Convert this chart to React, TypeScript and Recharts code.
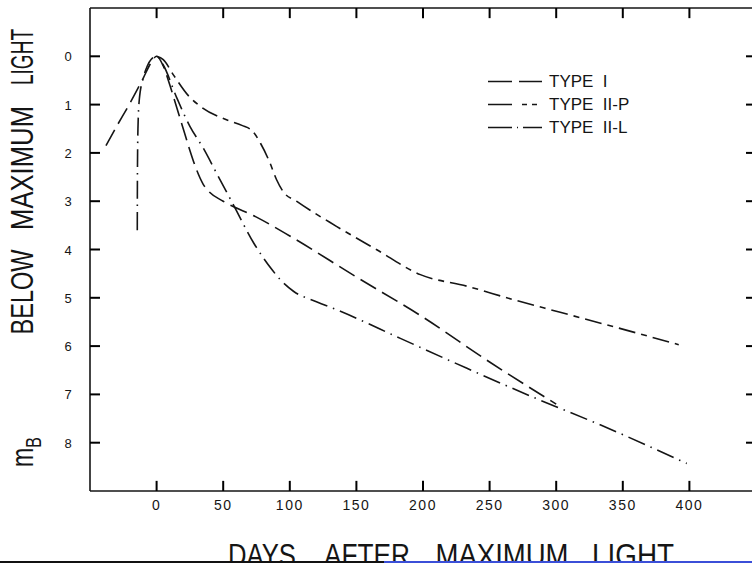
import { LineChart, Line, XAxis, YAxis, Legend, Label, ReferenceLine } from 'recharts'

// light curves (days after max, mag below max)
const TYPE_I_DAYS = [-38, -30, -20, -10, -5, -2, 0, 5, 10, 15, 20, 25, 30, 35, 40, 50, 75, 100, 150, 200, 250, 300]
const TYPE_I_MAG = [1.85, 1.45, 0.97, 0.45, 0.17, 0.04, 0, 0.2, 0.6, 1.05, 1.5, 1.95, 2.35, 2.65, 2.82, 3.0, 3.33, 3.72, 4.57, 5.4, 6.33, 7.2]

const TYPE_IIP_DAYS = [0, 5, 13, 24, 34, 52, 64, 72, 78, 85, 90, 95, 105, 135, 165, 198, 233, 268, 303, 338, 392]
const TYPE_IIP_MAG = [0, 0.07, 0.4, 0.82, 1.06, 1.31, 1.43, 1.55, 1.8, 2.2, 2.55, 2.8, 3.0, 3.52, 4.0, 4.52, 4.76, 5.04, 5.3, 5.56, 5.97]

const TYPE_IIL_DAYS = [-14.5, -14.4, -14, -13, -10, -7, -4, 0, 5, 15, 25, 35, 45, 57, 73, 87, 93, 103, 120, 138, 183, 233, 288, 333, 398]
const TYPE_IIL_MAG = [3.6, 2.5, 1.5, 0.9, 0.45, 0.2, 0.06, 0, 0.18, 0.85, 1.45, 1.9, 2.42, 3.04, 3.87, 4.43, 4.63, 4.87, 5.08, 5.28, 5.84, 6.46, 7.12, 7.63, 8.43]

const SERIES_NAMES = ['TYPE  I', 'TYPE  II-P', 'TYPE  II-L']

const X_TICKS = [0, 50, 100, 150, 200, 250, 300, 350, 400]
const Y_TICKS = [0, 1, 2, 3, 4, 5, 6, 7, 8]
const X_DOMAIN: [number, number] = [-50, 450]
const Y_DOMAIN: [number, number] = [-1, 9]

const zip = (days: number[], mags: number[]) => days.map((d, i) => ({ d, m: mags[i] }))

const typeI = zip(TYPE_I_DAYS, TYPE_I_MAG)
const typeIIP = zip(TYPE_IIP_DAYS, TYPE_IIP_MAG)
const typeIIL = zip(TYPE_IIL_DAYS, TYPE_IIL_MAG)

const INK = '#151515'
const FONT = '"Liberation Sans", Arial, sans-serif'

// inward tick length in data units (~10px)
const TICK_DAYS = 7.5
const TICK_MAG = 0.21

const LEGEND_DASH: Record<string, string> = {
  'TYPE  I': '24 7 24',
  'TYPE  II-P': '24 10 5 5 5 5',
  'TYPE  II-L': '24 5 1 5 30',
}

const axisLineStyle = { stroke: INK, strokeWidth: 1.6 }

function BottomLabel({ x, y, payload }: any) {
  return (
    <text x={x} y={y + 19} textAnchor="middle" fontSize={14} letterSpacing={1.5} fontFamily={FONT} fill={INK}>
      {payload.value}
    </text>
  )
}

function LeftLabel({ x, y, payload }: any) {
  return (
    <text x={x - 22} y={y + 5} textAnchor="middle" fontSize={13} fontFamily={FONT} fill={INK}>
      {payload.value}
    </text>
  )
}

// stretched word, stroke-font look
function Word({ cx, cy, len, rotate, children }: any) {
  return (
    <text
      transform={`translate(${cx},${cy}) ${rotate ? 'rotate(-90)' : ''} scale(1,1.35)`}
      textAnchor="middle"
      fontSize={23}
      fontFamily={FONT}
      fill={INK}
      textLength={len}
      lengthAdjust="spacingAndGlyphs"
    >
      {children}
    </text>
  )
}

function YTitle() {
  return (
    <g>
      <Word cx={33} cy={57} len={56} rotate>LIGHT</Word>
      <Word cx={33} cy={168} len={124} rotate>MAXIMUM</Word>
      <Word cx={33} cy={292} len={85} rotate>BELOW</Word>
      <text transform="translate(33,452) rotate(-90) scale(1,1.35)" textAnchor="middle" fontSize={23} fontFamily={FONT} fill={INK}>
        m<tspan fontSize={16} dy={6}>B</tspan>
      </text>
    </g>
  )
}

function XTitle() {
  return (
    <g>
      <Word cx={262} cy={566} len={68}>DAYS</Word>
      <Word cx={367} cy={566} len={86}>AFTER</Word>
      <Word cx={502} cy={566} len={133}>MAXIMUM</Word>
      <Word cx={633} cy={566} len={82}>LIGHT</Word>
    </g>
  )
}

function LegendBox({ payload }: any) {
  const rows = [...(payload || [])].sort((a: any, b: any) => SERIES_NAMES.indexOf(a.value) - SERIES_NAMES.indexOf(b.value))
  return (
    <div style={{ fontFamily: FONT, color: INK }}>
      {rows.map((e: any) => (
        <div key={e.value} style={{ display: 'flex', alignItems: 'center', height: 23 }}>
          <svg width={56} height={23}>
            <line x1={1} y1={11.5} x2={55} y2={11.5} stroke={INK} strokeWidth={1.6} strokeDasharray={LEGEND_DASH[e.value]} />
          </svg>
          <span style={{ marginLeft: 6, fontSize: 17, whiteSpace: 'pre', lineHeight: '23px' }}>{e.value}</span>
        </div>
      ))}
    </div>
  )
}

export default function App() {
  const [x0, x1] = X_DOMAIN
  const [y0, y1] = Y_DOMAIN
  const tickProps = { stroke: '#000', strokeWidth: 2, ifOverflow: 'visible' as const, zIndex: 1000 }
  return (
    <div style={{ position: 'absolute', left: 0, top: 0, width: 752, height: 563, overflow: 'hidden', background: '#fff' }}>
      <LineChart width={765} height={563} margin={{ top: 3, right: 4, bottom: 22, left: 30 }}>
        <XAxis
          dataKey="d"
          type="number"
          domain={X_DOMAIN}
          ticks={X_TICKS}
          height={50}
          tickSize={0}
          tickMargin={0}
          tick={<BottomLabel />}
          axisLine={axisLineStyle}
          tickLine={false}
        >
          <Label content={<XTitle />} />
        </XAxis>
        <XAxis
          xAxisId="top"
          orientation="top"
          type="number"
          domain={X_DOMAIN}
          height={5}
          tick={false}
          axisLine={axisLineStyle}
          tickLine={false}
        />
        <YAxis
          type="number"
          reversed
          domain={Y_DOMAIN}
          ticks={Y_TICKS}
          width={60}
          tickSize={0}
          tickMargin={0}
          tick={<LeftLabel />}
          axisLine={axisLineStyle}
          tickLine={false}
        >
          <Label content={<YTitle />} />
        </YAxis>
        <YAxis
          yAxisId="right"
          orientation="right"
          type="number"
          reversed
          domain={Y_DOMAIN}
          width={5}
          tick={false}
          axisLine={axisLineStyle}
          tickLine={false}
        />
        {X_TICKS.map(t => (
          <ReferenceLine key={`b${t}`} segment={[{ x: t, y: y1 }, { x: t, y: y1 - TICK_MAG }]} {...tickProps} />
        ))}
        {X_TICKS.map(t => (
          <ReferenceLine key={`t${t}`} segment={[{ x: t, y: y0 }, { x: t, y: y0 + TICK_MAG }]} {...tickProps} />
        ))}
        {Y_TICKS.map(t => (
          <ReferenceLine key={`l${t}`} segment={[{ x: x0, y: t }, { x: x0 + TICK_DAYS, y: t }]} {...tickProps} />
        ))}
        {Y_TICKS.map(t => (
          <ReferenceLine key={`r${t}`} segment={[{ x: x1, y: t }, { x: x1 - TICK_DAYS, y: t }]} {...tickProps} />
        ))}
        <Legend
          layout="vertical"
          align="center"
          verticalAlign="middle"
          content={<LegendBox />}
          wrapperStyle={{ top: 70, left: 487, width: 200 }}
        />
        <Line data={typeI} dataKey="m" name={SERIES_NAMES[0]} type="monotone" stroke={INK} strokeWidth={1.6}
          strokeDasharray="18 7" dot={false} isAnimationActive={false} />
        <Line data={typeIIP} dataKey="m" name={SERIES_NAMES[1]} type="monotone" stroke={INK} strokeWidth={1.6}
          strokeDasharray="17 6 6 6" dot={false} isAnimationActive={false} />
        <Line data={typeIIL} dataKey="m" name={SERIES_NAMES[2]} type="monotone" stroke={INK} strokeWidth={1.6}
          strokeDasharray="18 6 1.5 6" dot={false} isAnimationActive={false} />
      </LineChart>
      <div style={{ position: 'absolute', left: 0, top: 561, width: 384, height: 2, background: '#111' }} />
      <div style={{ position: 'absolute', left: 384, top: 561, width: 368, height: 2, background: '#3b4fd8' }} />
    </div>
  )
}
